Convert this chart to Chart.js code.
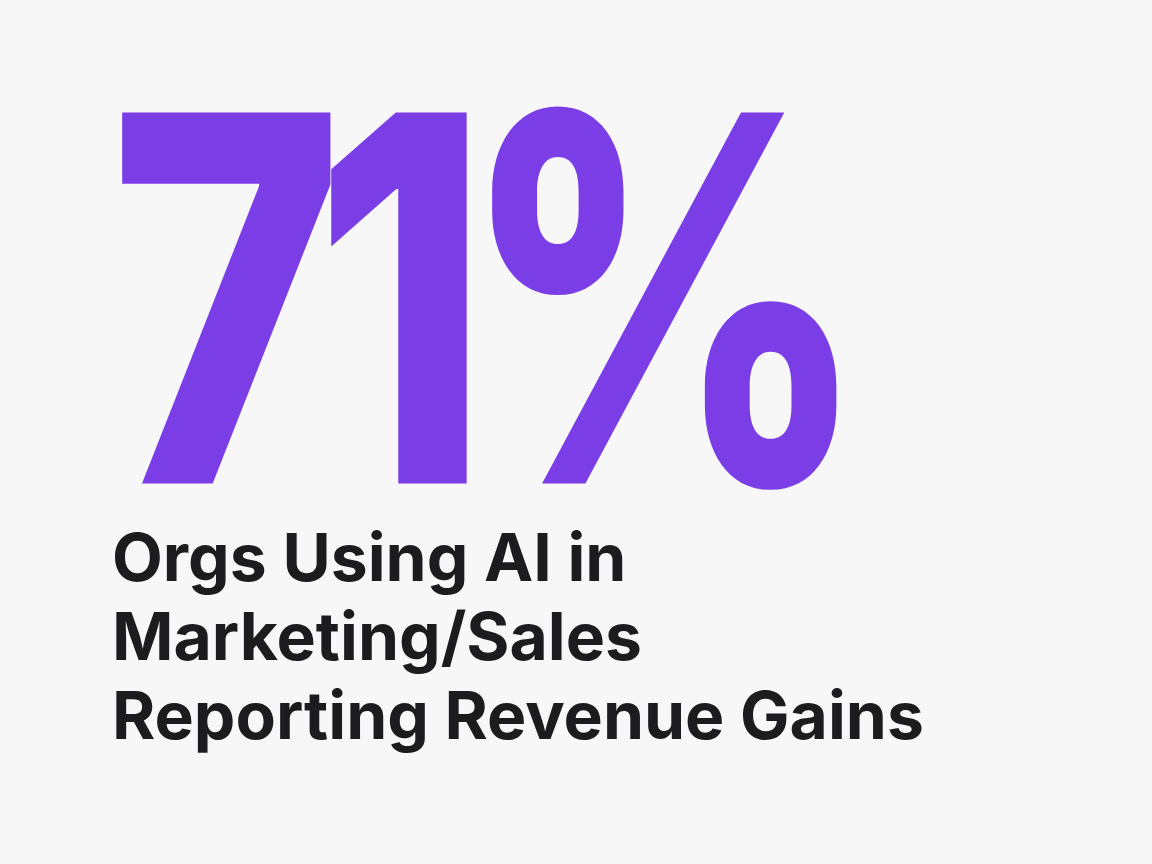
<!DOCTYPE html>
<html><head><meta charset="utf-8">
<script src="https://cdn.jsdelivr.net/npm/chart.js@4"></script>
<style>html,body{margin:0;background:#f7f7f7;}#wrap{width:1152px;height:864px;}</style>
</head><body><div id="wrap"><canvas id="c"></canvas></div>
<script>
const statValue = ['71%'];
const captionLines = ['Orgs Using AI in', 'Marketing/Sales', 'Reporting Revenue Gains'];
const labels = [''];
const values = [0];

const spacingPlugin = {
  id: 'spacing',
  afterInit(chart) {
    const tb = chart.titleBlock;
    if (tb) {
      const o = tb.draw;
      tb.draw = function(a){
        const ctx = chart.ctx;
        ctx.save();
        ctx.letterSpacing = '-38px';
        ctx.translate(100, 0); ctx.scale(0.78, 1); ctx.translate(-100, 0);
        o.call(this, a);
        ctx.restore();
      };
    }
  }
};

new Chart(document.getElementById('c'), {
  type: 'bar',
  data: { labels, datasets: [{ data: values, backgroundColor: 'rgba(0,0,0,0)' }] },
  options: {
    responsive: true, maintainAspectRatio: false, animation: false,
    layout: { padding: { left: 112, top: 0 } },
    scales: { x: { display: false }, y: { display: false } },
    plugins: {
      legend: { display: false }, tooltip: { enabled: false },
      title: { display: true, text: statValue, align: 'start', color: '#7a3de6',
        font: { family: 'Inter', size: 510, weight: '800', lineHeight: 0.75 }, padding: { top: 139, bottom: 0 } },
      subtitle: { display: true, text: captionLines, align: 'start', color: '#1c1c1e',
        font: { family: 'Inter', size: 66, weight: '700', lineHeight: 1.2 }, padding: { top: 0, bottom: 0 } }
    }
  },
  plugins: [spacingPlugin]
});
</script></body></html>
